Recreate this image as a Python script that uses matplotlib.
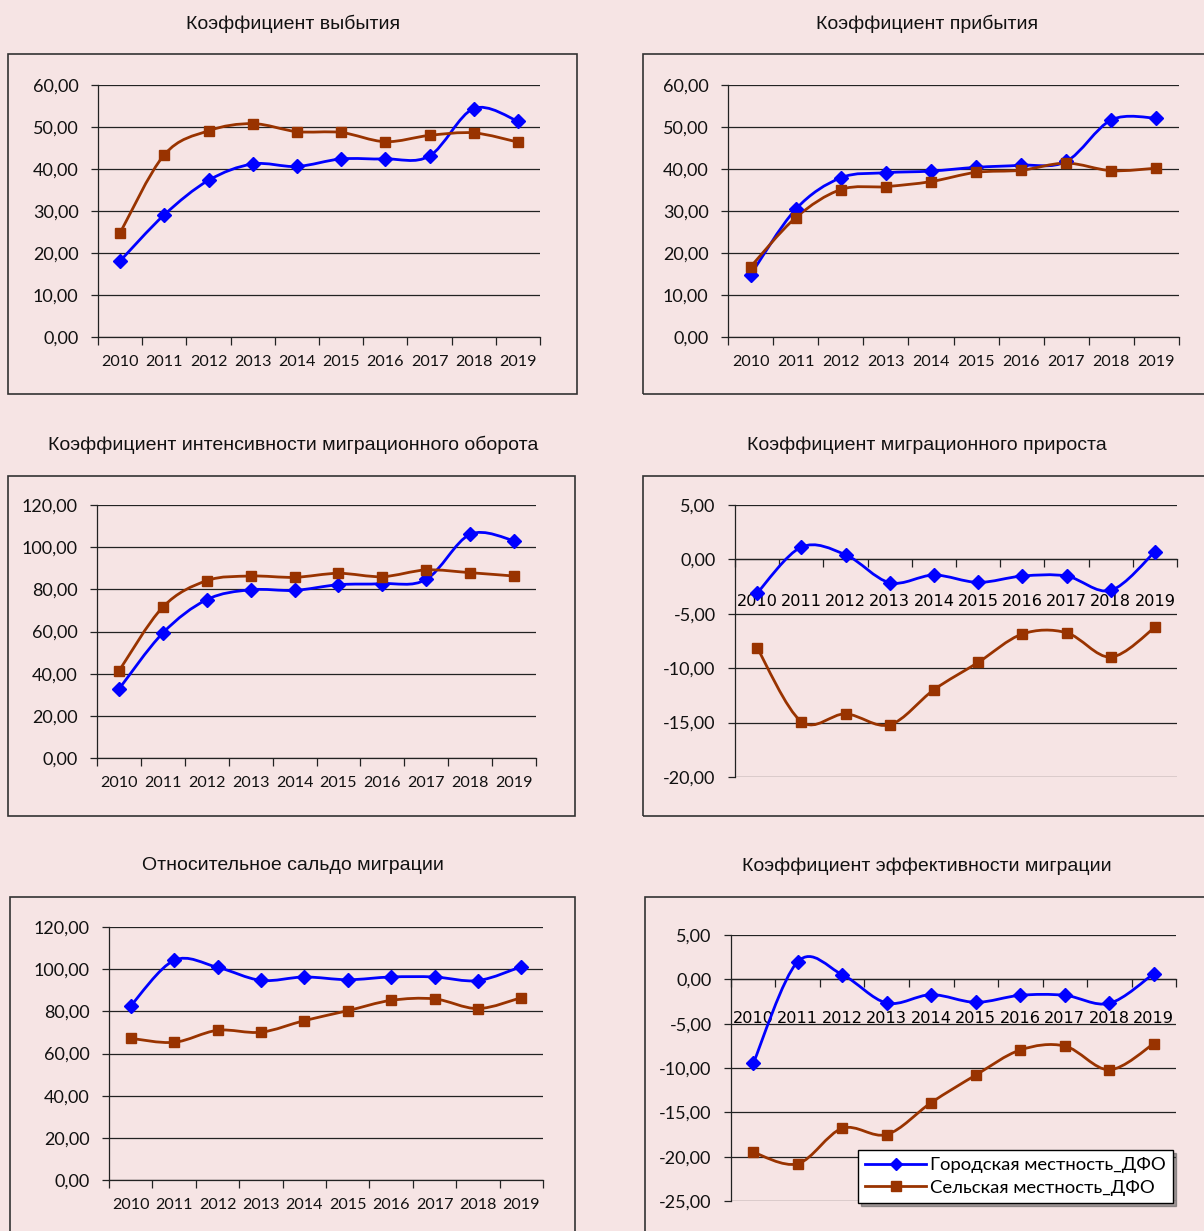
import numpy as np
import matplotlib
matplotlib.use('Agg')
import matplotlib.pyplot as plt
from matplotlib.path import Path
from matplotlib.patches import PathPatch, Rectangle
from matplotlib.lines import Line2D
from matplotlib.ticker import FuncFormatter, FixedLocator

# Данные
years = [str(y) for y in range(2010, 2020)]

vybytie_city = [18.1, 29.1, 37.3, 41.2, 40.6, 42.4, 42.4, 43.1, 54.4, 51.4]
vybytie_rural = [24.8, 43.4, 49.1, 50.8, 48.9, 48.7, 46.5, 48.0, 48.6, 46.4]

pribytie_city = [14.8, 30.4, 37.9, 39.1, 39.5, 40.4, 40.9, 41.8, 51.7, 52.1]
pribytie_rural = [16.7, 28.4, 35.1, 35.8, 37.0, 39.2, 39.7, 41.4, 39.6, 40.2]

oborot_city = [32.7, 59.3, 75.1, 79.8, 79.5, 82.2, 82.7, 84.7, 106.1, 103.1]
oborot_rural = [41.3, 71.6, 84.1, 86.3, 85.7, 87.6, 86.0, 89.2, 87.9, 86.3]

prirost_city = [-3.10, 1.13, 0.43, -2.14, -1.44, -2.11, -1.53, -1.53, -2.85, 0.70]
prirost_rural = [-8.12, -14.90, -14.20, -15.20, -11.98, -9.47, -6.86, -6.74, -8.98, -6.25]

saldo_city = [82.6, 104.2, 100.9, 94.7, 96.3, 95.0, 96.3, 96.3, 94.6, 101.2]
saldo_rural = [67.2, 65.3, 71.0, 70.1, 75.6, 80.3, 85.2, 85.9, 81.3, 86.5]

effekt_city = [-9.47, 1.99, 0.53, -2.67, -1.73, -2.59, -1.80, -1.80, -2.71, 0.64]
effekt_rural = [-19.5, -20.8, -16.8, -17.5, -13.9, -10.8, -7.97, -7.52, -10.2, -7.26]

titles = ['Коэффициент выбытия', 'Коэффициент прибытия',
          'Коэффициент интенсивности миграционного оборота',
          'Коэффициент миграционного прироста',
          'Относительное сальдо миграции',
          'Коэффициент эффективности миграции']

series_names = ['Городская местность_ДФО', 'Сельская местность_ДФО']

W, H = 1204, 1231
BG = '#f6e4e4'
BLUE = '#0000ff'
BROWN = '#993300'
TICK_FONT = ['Lato', 'DejaVu Sans']
TITLE_FONT = ['Liberation Sans Narrow', 'Liberation Sans', 'DejaVu Sans']

fig = plt.figure(figsize=(W / 100, H / 100), dpi=100, facecolor=BG)


def px_rect(l, t, r, b):
    return [l / W, 1 - b / H, (r - l) / W, (b - t) / H]


def smooth_path(vals):
    # сглаженная линия как в Excel (кривые Безье)
    pts = np.column_stack([np.arange(len(vals)), np.asarray(vals, float)])
    n = len(pts)
    verts = [pts[0]]
    codes = [Path.MOVETO]
    for i in range(n - 1):
        p0 = pts[max(i - 1, 0)]
        p1 = pts[i]
        p2 = pts[i + 1]
        p3 = pts[min(i + 2, n - 1)]
        verts += [p1 + (p2 - p0) / 6, p2 - (p3 - p1) / 6, p2]
        codes += [Path.CURVE4] * 3
    return Path(verts, codes)


fmt = FuncFormatter(lambda v, pos: f'{v:.2f}'.replace('.', ','))

# (title, city, rural, ylim, step, axes px, box px, title xy, label pad)
panels = [
    (titles[0], vybytie_city, vybytie_rural, (0, 60), 10,
     (98, 85, 540, 337), (8, 54, 577, 394), (293, 24), 13),
    (titles[1], pribytie_city, pribytie_rural, (0, 60), 10,
     (728, 85, 1179, 337), (643, 54, 1212, 394), (927, 24), 13),
    (titles[2], oborot_city, oborot_rural, (0, 120), 20,
     (97, 505, 536, 758), (8, 476, 575, 816), (293, 445), 13),
    (titles[3], prirost_city, prirost_rural, (-20, 5), 5,
     (735, 505, 1177, 777), (643, 476, 1212, 816), (927, 445), 25),
    (titles[4], saldo_city, saldo_rural, (0, 120), 20,
     (109, 927, 543, 1180), (10, 897, 575, 1240), (293, 866), 13),
    (titles[5], effekt_city, effekt_rural, (-25, 5), 5,
     (731, 935, 1176, 1201), (645, 897, 1212, 1240), (927, 866), 22.5),
]

axes = []
for title, city, rural, ylim, step, arect, brect, txy, lpad in panels:
    bl, bt, br, bb = brect
    fig.add_artist(Rectangle((bl / W, 1 - bb / H), (br - bl) / W, (bb - bt) / H,
                             transform=fig.transFigure, facecolor='none',
                             edgecolor='#333333', lw=1.2))
    fig.text(txy[0] / W, 1 - txy[1] / H, title, ha='center', va='center',
             fontsize=14, family=TITLE_FONT, color='#111111')

    ax = fig.add_axes(px_rect(*arect))
    ax.set_facecolor('none')
    ax.set_xlim(-0.5, len(years) - 0.5)
    ax.set_ylim(*ylim)
    yt = np.arange(ylim[0], ylim[1] + step / 2, step)
    ax.set_yticks(yt)
    ax.yaxis.set_major_formatter(fmt)
    ax.grid(axis='y', color='#222222', lw=0.9)
    ax.set_axisbelow(True)

    ax.set_xticks(range(len(years)))
    ax.set_xticklabels(years)
    ax.xaxis.set_minor_locator(FixedLocator(np.arange(-0.5, len(years), 1.0)))
    ax.tick_params(axis='x', which='major', length=0, pad=lpad, labelsize=11.6)
    ax.tick_params(axis='x', which='minor', length=6, width=0.9, color='#222222', direction='out')
    ax.tick_params(axis='y', length=5, width=0.9, color='#222222', labelsize=13, pad=9)
    for lab in ax.get_xticklabels() + ax.get_yticklabels():
        lab.set_family(TICK_FONT)
        lab.set_color('#111111')

    for s in ['top', 'right']:
        ax.spines[s].set_visible(False)
    ax.spines['left'].set_color('#222222')
    ax.spines['left'].set_linewidth(0.9)
    ax.spines['bottom'].set_color('#222222')
    ax.spines['bottom'].set_linewidth(0.9)
    if ylim[0] < 0:
        ax.spines['bottom'].set_position(('data', 0))

    x = np.arange(len(years))
    ax.add_patch(PathPatch(smooth_path(city), fill=False, edgecolor=BLUE, lw=2.0, zorder=3))
    ax.add_patch(PathPatch(smooth_path(rural), fill=False, edgecolor=BROWN, lw=2.0, zorder=3))
    ax.plot(x, city, ls='none', marker='D', ms=7, color=BLUE, zorder=4, clip_on=False)
    ax.plot(x, rural, ls='none', marker='s', ms=7.5, color=BROWN, zorder=4, clip_on=False)
    axes.append(ax)

handles = [Line2D([], [], color=BLUE, lw=2.0, marker='D', ms=6.5),
           Line2D([], [], color=BROWN, lw=2.0, marker='s', ms=7.5)]
leg = fig.legend(handles, series_names, loc='lower left',
                 bbox_to_anchor=(858 / W, 1 - 1203 / H), bbox_transform=fig.transFigure,
                 borderaxespad=0, fancybox=False, shadow=True, framealpha=1,
                 edgecolor='black', facecolor='white', handlelength=3.3,
                 handletextpad=0.2, borderpad=0.4, labelspacing=0.35,
                 prop={'family': TICK_FONT, 'size': 13.3})
leg.get_frame().set_linewidth(1.0)

fig.savefig('out.png', dpi=100, facecolor=BG)
